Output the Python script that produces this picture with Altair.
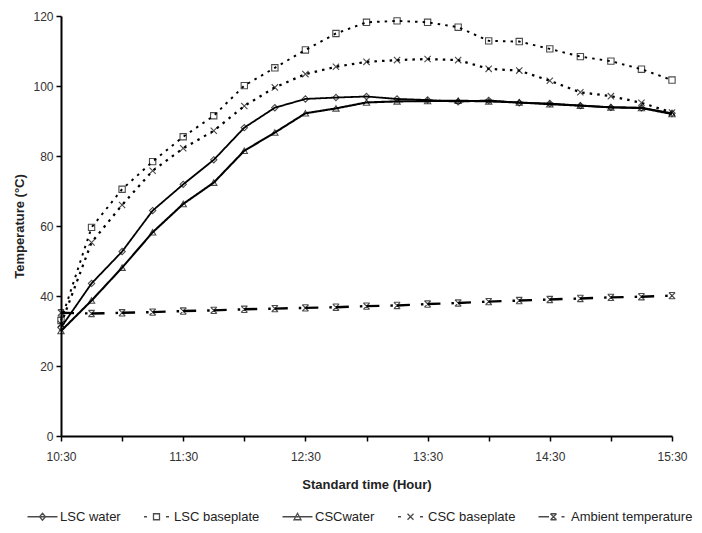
import altair as alt
import pandas as pd

times = ["10:30", "10:45", "11:00", "11:15", "11:30", "11:45", "12:00", "12:15", "12:30", "12:45",
         "13:00", "13:15", "13:30", "13:45", "14:00", "14:15", "14:30", "14:45", "15:00", "15:15", "15:30"]

series_names = ["LSC water", "LSC baseplate", "CSCwater", "CSC baseplate", "Ambient temperature"]

lsc_water = [31, 43.6, 52.7, 64.4, 71.9, 78.9, 88.1, 93.8, 96.3, 96.7,
             97.0, 96.3, 96.0, 95.5, 95.9, 95.2, 95.0, 94.4, 93.9, 93.8, 92.2]
lsc_baseplate = [33, 59.6, 70.5, 78.4, 85.5, 91.5, 100.1, 105.2, 110.3, 115.0,
                 118.2, 118.6, 118.2, 116.8, 112.9, 112.7, 110.6, 108.4, 107.1, 104.8, 101.7]
csc_water = [30, 38.7, 48.1, 58.2, 66.3, 72.4, 81.5, 86.7, 92.2, 93.6,
             95.3, 95.6, 95.7, 95.8, 95.6, 95.3, 94.8, 94.4, 93.9, 93.7, 92.0]
csc_baseplate = [32, 55.3, 66.0, 75.8, 82.2, 87.2, 94.3, 99.6, 103.4, 105.5,
                 106.9, 107.4, 107.7, 107.4, 104.9, 104.4, 101.5, 98.2, 97.1, 95.2, 92.4]
ambient = [35.2, 35.0, 35.2, 35.4, 35.7, 35.9, 36.2, 36.4, 36.6, 36.8,
           37.1, 37.3, 37.7, 38.0, 38.4, 38.7, 39.0, 39.3, 39.6, 39.8, 40.1]

values = [lsc_water, lsc_baseplate, csc_water, csc_baseplate, ambient]

rows = []
for name, vals in zip(series_names, values):
    for t, v in zip(times, vals):
        h, m = t.split(":")
        rows.append({"time": t, "hour": int(h) + int(m) / 60.0, "series": name, "temp": v})
df = pd.DataFrame(rows)

FONT = "Liberation Sans"

dashes = [[1, 0], [2.5, 5.1], [1, 0], [2.5, 5.1], [13, 11, 2.5, 4.05]]
widths = [1.8, 2.4, 1.8, 2.4, 2.0]
point_shapes = [
    "diamond",
    "square",
    "triangle-up",
    "M-1,-1L1,1M1,-1L-1,1",
    "M-1,-1H1M-1,1H1M-1,-1L1,1M1,-1L-1,1",
]
legend_shapes = [
    "M-3,0H3M0,-0.7L0.6,0L0,0.7L-0.6,0Z",
    "M-2.5,0H-1.9M1.9,0H2.5M-0.6,-0.6H0.6V0.6H-0.6Z",
    "M-3,0H3M0,-0.7L0.7,0.6H-0.7Z",
    "M-2.5,0H-1.9M1.9,0H2.5M-0.6,-0.6L0.6,0.6M0.6,-0.6L-0.6,0.6",
    "M-3,0H-0.9M1.6,0H2.2M-0.6,-0.6H0.6M-0.6,0.6H0.6M-0.6,-0.6L0.6,0.6M0.6,-0.6L-0.6,0.6",
]

x_enc = alt.X(
    "hour:Q",
    scale=alt.Scale(domain=[10.5, 15.5], nice=False, zero=False),
    axis=alt.Axis(
        title="Standard time (Hour)",
        values=[10.5, 11, 11.5, 12, 12.5, 13, 13.5, 14, 14.5, 15, 15.5],
        labelExpr="datum.value % 1 == 0.5 ? floor(datum.value) + ':30' : ''",
        labelFlush=False,
        labelOverlap=False,
        grid=False,
        domainColor="black",
        domainWidth=2,
        tickColor="black",
        tickWidth=1.5,
        tickSize=5,
        labelFont=FONT,
        labelFontSize=12,
        labelColor="#333",
        labelPadding=10,
        titleFont=FONT,
        titleFontSize=13,
        titleFontWeight="bold",
        titleColor="#222",
        titlePadding=16,
    ),
)
y_enc = alt.Y(
    "temp:Q",
    scale=alt.Scale(domain=[0, 120], nice=False),
    axis=alt.Axis(
        title="Temperature (°C)",
        values=[0, 20, 40, 60, 80, 100, 120],
        grid=False,
        domainColor="black",
        domainWidth=2,
        tickColor="black",
        tickWidth=1.5,
        tickSize=5,
        labelFont=FONT,
        labelFontSize=12,
        labelColor="#333",
        labelPadding=3,
        titleFont=FONT,
        titleFontSize=13,
        titleFontWeight="bold",
        titleColor="#222",
        titlePadding=6,
    ),
)

lines = alt.Chart(df).mark_line(color="black").encode(
    x=x_enc,
    y=y_enc,
    strokeDash=alt.StrokeDash("series:N", scale=alt.Scale(domain=series_names, range=dashes), legend=None),
    strokeWidth=alt.StrokeWidth("series:N", scale=alt.Scale(domain=series_names, range=widths), legend=None),
    detail="series:N",
    order="hour:Q",
)

points = alt.Chart(df).mark_point(filled=False, color="black", size=40, strokeWidth=1.1).encode(
    x=x_enc,
    y=y_enc,
    shape=alt.Shape("series:N", scale=alt.Scale(domain=series_names, range=point_shapes), legend=None),
)

legend_layer = alt.Chart(df).transform_filter("false").mark_point(
    filled=False, color="black", size=100, strokeWidth=1.3
).encode(
    shape=alt.Shape(
        "series:N",
        scale=alt.Scale(domain=series_names, range=legend_shapes),
        legend=alt.Legend(
            title=None,
            orient="none",
            legendX=-35,
            legendY=494,
            direction="horizontal",
            symbolSize=100,
            symbolStrokeWidth=1.3,
            symbolStrokeColor="black",
            symbolFillColor="transparent",
            symbolOffset=10,
            labelOffset=11,
            columnPadding=19,
            labelFont=FONT,
            labelFontSize=13,
            labelColor="#222",
        ),
    ),
)

chart = (
    alt.layer(lines, points, legend_layer)
    .resolve_scale(shape="independent")
    .properties(width=611, height=420, padding={"left": 5, "top": 2, "right": 0, "bottom": 2})
    .configure_view(stroke=None)
)

chart.save("out.html", embed_options={"renderer": "svg", "actions": False})
